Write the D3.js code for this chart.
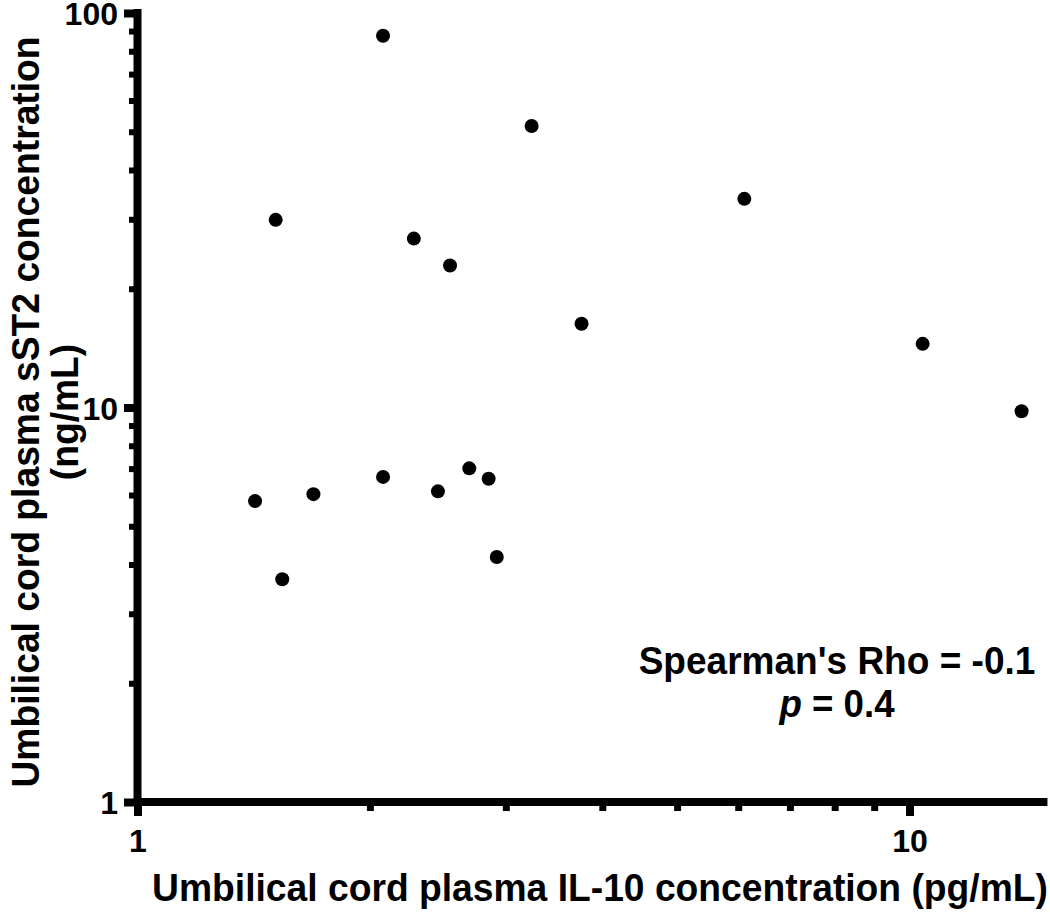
<!DOCTYPE html>
<html>
<head>
<meta charset="utf-8">
<script src="https://cdn.jsdelivr.net/npm/d3@7"></script>
<style>
  html, body { margin: 0; padding: 0; background: #fff; }
  svg { display: block; }
  text { font-family: "Liberation Sans", Arial, sans-serif; font-weight: bold; fill: #000; }
</style>
</head>
<body>
<svg id="chart" width="1050" height="913"></svg>
<script>
// IL-10 concentration (pg/mL)
const il10 = [2.08, 3.24, 1.51, 2.28, 2.54, 6.11, 3.76, 10.4, 13.97, 1.42, 1.69, 2.08, 2.45, 2.69, 2.85, 1.54, 2.92];
// sST2 concentration (ng/mL)
const sst2 = [87.6, 51.7, 29.9, 26.8, 22.9, 33.8, 16.3, 14.5, 9.78, 5.79, 6.03, 6.67, 6.13, 7.01, 6.60, 3.67, 4.18];

const xMajorTicks = [1, 10];
const xMinorTicks = [2, 3, 4, 5, 6, 7, 8, 9];
const yMajorTicks = [1, 10, 100];
const yMinorTicks = [2, 3, 4, 5, 6, 7, 8, 9, 20, 30, 40, 50, 60, 70, 80, 90];
const xDomain = [1, 15];
const yDomain = [1, 100];

const xTitle = "Umbilical cord plasma IL-10 concentration (pg/mL)";
const yTitleLines = ["Umbilical cord plasma sST2 concentration", "(ng/mL)"];
const statLine1 = "Spearman's Rho = -0.1";

const svg = d3.select("#chart");
const x0 = 137.5, y0 = 802;
const decadeX = 772;
const x = d3.scaleLog().domain(xDomain).range([x0, x0 + decadeX * Math.log10(xDomain[1])]);
const y = d3.scaleLog().domain(yDomain).range([y0, 13]);

const fmt = d => String(d);
const FONT = '"Liberation Sans", Arial, sans-serif';

// Y axis minor ticks
svg.append("g").attr("transform", `translate(${x0},0)`)
  .call(d3.axisLeft(y).tickValues(yMinorTicks).tickSize(8.5).tickFormat(""))
  .call(g => g.select(".domain").remove())
  .call(g => g.selectAll(".tick line").attr("stroke", "#000").attr("stroke-width", 6));
// Y axis major
svg.append("g").attr("transform", `translate(${x0},0)`)
  .call(d3.axisLeft(y).tickValues(yMajorTicks).tickSize(13.5).tickPadding(6).tickFormat(fmt))
  .call(g => g.select(".domain").remove())
  .call(g => g.selectAll(".tick line").attr("stroke", "#000").attr("stroke-width", 8))
  .call(g => g.selectAll(".tick text").attr("font-size", 32).attr("font-family", FONT).attr("font-weight", "bold").attr("dy", "0.37em"));

// X axis minor
svg.append("g").attr("transform", `translate(0,${y0})`)
  .call(d3.axisBottom(x).tickValues(xMinorTicks).tickSize(9).tickFormat(""))
  .call(g => g.select(".domain").remove())
  .call(g => g.selectAll(".tick line").attr("stroke", "#000").attr("stroke-width", 7));
// X axis major
svg.append("g").attr("transform", `translate(0,${y0})`)
  .call(d3.axisBottom(x).tickValues(xMajorTicks).tickSize(14).tickPadding(13).tickFormat(fmt))
  .call(g => g.select(".domain").remove())
  .call(g => g.selectAll(".tick line").attr("stroke", "#000").attr("stroke-width", 8))
  .call(g => g.selectAll(".tick text").attr("font-size", 32).attr("font-family", FONT).attr("font-weight", "bold"));

// Axis lines
svg.append("line").attr("x1", x0).attr("x2", x0).attr("y1", y(yDomain[1]) - 4).attr("y2", y0 + 4)
  .attr("stroke", "#000").attr("stroke-width", 8);
svg.append("line").attr("x1", x0 - 4).attr("x2", x(xDomain[1]) + 2).attr("y1", y0).attr("y2", y0)
  .attr("stroke", "#000").attr("stroke-width", 8);

// Points
svg.append("g").selectAll("circle").data(il10.map((v, i) => [v, sst2[i]])).join("circle")
  .attr("cx", d => x(d[0])).attr("cy", d => y(d[1])).attr("r", 7).attr("fill", "#000");

const SX = 0.955;

// X title
svg.append("g").attr("transform", `translate(600,901) scale(${SX},1)`)
  .append("text").attr("text-anchor", "middle").attr("font-size", 39).text(xTitle);

// Y title
const yt = svg.append("g").attr("transform", `translate(0,412) rotate(-90) scale(${SX},1)`)
  .append("text").attr("text-anchor", "middle").attr("font-size", 39);
yt.append("tspan").attr("x", 0).attr("y", 39).text(yTitleLines[0]);
yt.append("tspan").attr("x", 0).attr("y", 78).text(yTitleLines[1]);

// Stats annotation
svg.append("g").attr("transform", `translate(837,674) scale(0.95,1)`)
  .append("text").attr("text-anchor", "middle").attr("font-size", 39).text(statLine1);
const t2 = svg.append("g").attr("transform", `translate(837,717) scale(0.94,1)`)
  .append("text").attr("text-anchor", "middle").attr("font-size", 39);
t2.append("tspan").attr("font-style", "italic").text("p");
t2.append("tspan").text(" = 0.4");
</script>
</body>
</html>
